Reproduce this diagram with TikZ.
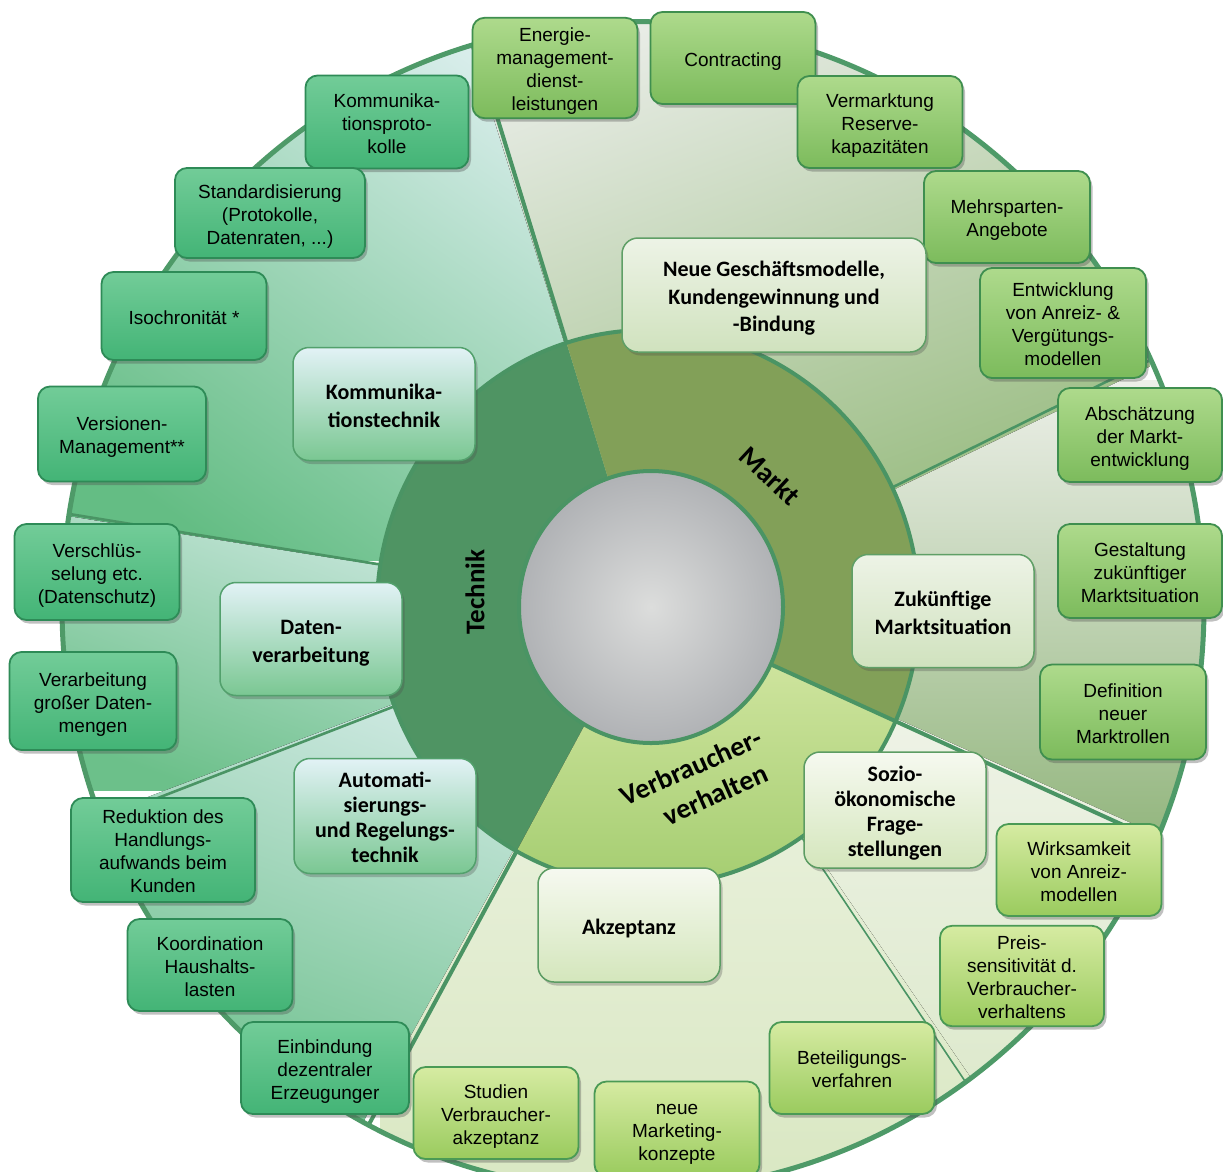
\documentclass[tikz,border=0pt]{standalone}
\usepackage{fontspec}
\setmainfont{Liberation Sans}
\newfontfamily\calib{Carlito}
\usetikzlibrary{shadows}
\newcommand\strA{\rule{0pt}{22pt}}
\newcommand\strZ{\rule[-5.4pt]{0pt}{5.4pt}}
\newcommand\strB{\rule{0pt}{24pt}}
\newcommand\strY{\rule[-5.5pt]{0pt}{5.5pt}}
\definecolor{lineG}{HTML}{4A9464}
\definecolor{ringT}{HTML}{4F9463}
\definecolor{ringM}{HTML}{82A058}
\definecolor{ringVt}{HTML}{D8E9A8}
\definecolor{ringVb}{HTML}{A4CD70}
\definecolor{bTt}{HTML}{72CC98}
\definecolor{bTb}{HTML}{43B476}
\definecolor{bTd}{HTML}{2E8B57}
\definecolor{bMt}{HTML}{AEDA8C}
\definecolor{bMb}{HTML}{7CBB5C}
\definecolor{bMd}{HTML}{3F8F4F}
\definecolor{bVt}{HTML}{D6EBA2}
\definecolor{bVb}{HTML}{9ACB5E}
\definecolor{bVd}{HTML}{4A9A55}
\definecolor{tTt}{HTML}{E2F2F6}
\definecolor{tTb}{HTML}{7AC792}
\definecolor{tTd}{HTML}{52A06C}
\definecolor{tMt}{HTML}{EDF3E6}
\definecolor{tMb}{HTML}{D0E2BE}
\definecolor{tMd}{HTML}{5F9F66}
\definecolor{tVt}{HTML}{F6F9F0}
\definecolor{tVb}{HTML}{D4E6BC}
\definecolor{tVd}{HTML}{5C9C63}
\begin{document}
\begin{tikzpicture}[x=1pt,y=-1pt,
  every node/.style={align=center,text=black},
  bx/.style={rounded corners=12pt,draw,line width=1.8pt,inner sep=2pt,
    font=\fontsize{19}{23}\selectfont,
    drop shadow={shadow xshift=2.5pt,shadow yshift=-3.5pt,opacity=0.35,fill=black!70}},
  bT/.style={bx,draw=bTd,top color=bTt,bottom color=bTb},
  bM/.style={bx,draw=bMd,top color=bMt,bottom color=bMb},
  bV/.style={bx,draw=bVd,top color=bVt,bottom color=bVb},
  tp/.style={rounded corners=16pt,draw,line width=1.5pt,inner sep=2pt,
    font=\calib\bfseries\fontsize{22}{27.5}\selectfont,
    drop shadow={shadow xshift=2.5pt,shadow yshift=-3.5pt,opacity=0.3,fill=black!70}},
  tT/.style={tp,draw=tTd,top color=tTt,bottom color=tTb},
  tM/.style={tp,draw=tMd,top color=tMt,bottom color=tMb},
  tV/.style={tp,draw=tVd,top color=tVt,bottom color=tVb},
  lbl/.style={font=\calib\bfseries\fontsize{28}{35}\selectfont,inner sep=0pt},
  bl/.style={draw=lineG,line width=4pt},
  sl/.style={draw=lineG,line width=2.6pt},
  tl/.style={draw=lineG,line width=1.6pt}]
\useasboundingbox (0,0) rectangle (1223,1171);
\fill[white] (0,0) rectangle (1223,1171);
% ---------- outer sectors ----------
\begin{scope}
\clip (648,608) -- +(189:1500) -- +(221:1500) -- +(252.5:1500) -- cycle;
\clip (633,606.5) ellipse [x radius=571,y radius=585];
\fill[top color={rgb,255:red,223;green,240;blue,241},bottom color={rgb,255:red,100;green,189;blue,132},shading angle=-35] (40,10) rectangle (660,560);
\end{scope}
\begin{scope}
\clip (648,608) -- +(159.3:1500) -- +(174:1500) -- +(189:1500) -- cycle;
\clip (633,606.5) ellipse [x radius=571,y radius=585];
\fill[top color={rgb,255:red,226;green,241;blue,243},bottom color={rgb,255:red,108;green,192;blue,138},shading angle=-20] (40,480) rectangle (660,790);
\end{scope}
\begin{scope}
\clip (648,608) -- +(119:1500) -- +(139:1500) -- +(159.3:1500) -- cycle;
\clip (633,606.5) ellipse [x radius=571,y radius=585];
\fill[top color={rgb,255:red,221;green,239;blue,239},bottom color={rgb,255:red,102;green,189;blue,134},shading angle=-20] (50,640) rectangle (660,1150);
\end{scope}
\begin{scope}
\clip (648,608) -- +(-107.5:1500) -- +(-66.6:1500) -- +(-25.7:1500) -- cycle;
\clip (633,606.5) ellipse [x radius=571,y radius=585];
\fill[top color={rgb,255:red,232;green,236;blue,230},bottom color={rgb,255:red,156;green,190;blue,133},shading angle=20] (470,10) rectangle (1150,500);
\end{scope}
\begin{scope}
\clip (648,608) -- +(-25.7:1500) -- +(-0.85:1500) -- +(24:1500) -- cycle;
\clip (633,606.5) ellipse [x radius=571,y radius=585];
\fill[top color={rgb,255:red,236;green,239;blue,232},bottom color={rgb,255:red,147;green,182;blue,126}] (640,380) rectangle (1210,840);
\end{scope}
\begin{scope}
\clip (648,608) -- +(24:1500) -- +(39.75:1500) -- +(55.5:1500) -- cycle;
\clip (633,606.5) ellipse [x radius=571,y radius=585];
\fill[top color={rgb,255:red,243;green,246;blue,238},bottom color={rgb,255:red,221;green,233;blue,204}] (640,600) rectangle (1180,1100);
\end{scope}
\begin{scope}
\clip (648,608) -- +(55.5:1500) -- +(87.25:1500) -- +(119:1500) -- cycle;
\clip (633,606.5) ellipse [x radius=571,y radius=585];
\fill[top color={rgb,255:red,240;green,245;blue,231},bottom color={rgb,255:red,217;green,231;blue,194}] (380,600) rectangle (1000,1195);
\end{scope}
% ---------- ring ----------
\fill[ringT] (648,608) -- +(119:271 and 278) arc[start angle=119,end angle=252.5,x radius=271,y radius=278] -- cycle;
\fill[ringM] (648,608) -- +(-107.5:271 and 278) arc[start angle=-107.5,end angle=24,x radius=271,y radius=278] -- cycle;
\fill[top color=ringVt,bottom color=ringVb] (648,608) -- +(24:271 and 278) arc[start angle=24,end angle=119,x radius=271,y radius=278] -- cycle;
% ---------- boundary lines ----------
\begin{scope}
\clip (633,606.5) ellipse [x radius=571,y radius=585];
\draw[bl] (648,608) +(-107.5:271 and 278) -- +(-107.5:700 and 718);
\draw[bl] (648,608) +(24:132 and 136) -- +(24:700 and 718);
\draw[bl] (648,608) +(119:271 and 278) -- +(119:700 and 718);
\draw[sl] (648,608) +(189:271 and 278) -- +(189:700 and 718);
\draw[sl] (648,608) +(159.3:271 and 278) -- +(159.3:700 and 718);
\draw[sl] (648,608) +(-25.7:271 and 278) -- +(-25.7:700 and 718);
\draw[tl] (648,608) +(55.5:271 and 278) -- +(55.5:700 and 718);
\end{scope}
\draw[draw=lineG,line width=4pt] (648,608) ellipse [x radius=271,y radius=278];
\draw[draw={rgb,255:red,78;green,154;blue,104},line width=5pt] (633,606.5) ellipse [x radius=571,y radius=585];
% ---------- centre ----------
\shade[inner color={rgb,255:red,220;green,221;blue,220},outer color={rgb,255:red,176;green,178;blue,181}] (651,607) ellipse [x radius=132,y radius=136];
\draw[draw=lineG,line width=4pt] (651,607) ellipse [x radius=132,y radius=136];
% ---------- sector labels ----------
\node[lbl,rotate=90,font=\calib\bfseries\fontsize{27}{33}\selectfont] (lT) at (475,592) {Technik};
\node[lbl,rotate=-43] (lM) at (770,476) {Markt};
\node[lbl,rotate=24] (lV) at (698,783) {Verbraucher-\\\hspace*{22pt}verhalten};
% ---------- Technik boxes ----------
\node[bT,minimum width=163pt,minimum height=93pt] (kp) at (387,122) {\strA Kommunika-\\tionsproto-\\kolle\strZ};
\node[bT,minimum width=190pt,minimum height=90pt] (st) at (270,213) {\strA Standardisierung\\(Protokolle,\\Datenraten, ...)\strZ};
\node[bT,minimum width=165pt,minimum height=88pt] (iso) at (184,316) {\strA Isochronität *\strZ};
\node[bT,minimum width=168pt,minimum height=95pt] (vm) at (122,434) {\strA Versionen-\\Management**\strZ};
\node[bT,minimum width=165pt,minimum height=96pt] (vs) at (97,572) {\strA Verschlüs-\\selung etc.\\(Datenschutz)\strZ};
\node[bT,minimum width=167pt,minimum height=98pt] (vg) at (93,701) {\strA Verarbeitung\\großer Daten-\\mengen\strZ};
\node[bT,minimum width=184pt,minimum height=104pt] (rd) at (163,850) {\strA Reduktion des\\Handlungs-\\aufwands beim\\Kunden\strZ};
\node[bT,minimum width=165pt,minimum height=92pt] (ko) at (210,965) {\strA Koordination\\Haushalts-\\lasten\strZ};
\node[bT,minimum width=168pt,minimum height=92pt] (ei) at (325,1068) {\strA Einbindung\\dezentraler\\Erzeugunger\strZ};
% ---------- Markt boxes ----------
\node[bM,minimum width=165pt,minimum height=100pt] (en) at (555,68) {\strA Energie-\\management-\\dienst-\\leistungen\strZ};
\node[bM,minimum width=165pt,minimum height=92pt] (co) at (733,58) {\strA Contracting\strZ};
\node[bM,minimum width=165pt,minimum height=92pt] (vr) at (880,122) {\strA Vermarktung\\Reserve-\\kapazitäten\strZ};
\node[bM,minimum width=166pt,minimum height=92pt] (ms) at (1007,217) {\strA Mehrsparten-\\Angebote\strZ};
\node[bM,minimum width=166pt,minimum height=110pt] (ea) at (1063,323) {\strA Entwicklung\\von Anreiz- \&\\Vergütungs-\\modellen\strZ};
\node[bM,minimum width=164pt,minimum height=94pt] (ab) at (1140,435) {\strA Abschätzung\\der Markt-\\entwicklung\strZ};
\node[bM,minimum width=164pt,minimum height=94pt] (ge) at (1140,571) {\strA Gestaltung\\zukünftiger\\Marktsituation\strZ};
\node[bM,minimum width=166pt,minimum height=95pt] (de) at (1123,712) {\strA Definition\\neuer\\Marktrollen\strZ};
% ---------- Verbraucher boxes ----------
\node[bV,minimum width=165pt,minimum height=92pt] (wi) at (1079,870) {\strA Wirksamkeit\\von Anreiz-\\modellen\strZ};
\node[bV,minimum width=164pt,minimum height=100pt] (pr) at (1022,976) {\strA Preis-\\sensitivität d.\\Verbraucher-\\verhaltens\strZ};
\node[bV,minimum width=165pt,minimum height=92pt] (be) at (852,1068) {\strA Beteiligungs-\\verfahren\strZ};
\node[bV,minimum width=165pt,minimum height=95pt] (nm) at (677,1129) {\strA neue\\Marketing-\\konzepte\strZ};
\node[bV,minimum width=165pt,minimum height=92pt] (su) at (496,1113) {\strA Studien\\Verbraucher-\\akzeptanz\strZ};
% ---------- topic boxes ----------
\node[tT,minimum width=182pt,minimum height=113pt] (kt) at (384,404) {\strB Kommunika-\\tionstechnik\strY};
\node[tT,minimum width=182pt,minimum height=113pt] (dv) at (311,639) {\strB Daten-\\verarbeitung\strY};
\node[tT,minimum width=182pt,minimum height=115pt,font=\calib\bfseries\fontsize{22}{25}\selectfont] (au) at (385,816) {\strB Automati-\\sierungs-\\und Regelungs-\\technik\strY};
\node[tM,minimum width=304pt,minimum height=114pt] (ng) at (774,295) {\strB Neue Geschäftsmodelle,\\Kundengewinnung und\\-Bindung\strY};
\node[tM,minimum width=182pt,minimum height=113pt] (zm) at (943,611) {\strB Zukünftige\\Marktsituation\strY};
\node[tV,minimum width=182pt,minimum height=116pt,font=\calib\bfseries\fontsize{22}{25}\selectfont] (so) at (895,810) {\strB Sozio-\\ökonomische\\Frage-\\stellungen\strY};
\node[tV,minimum width=182pt,minimum height=114pt] (ak) at (629,925) {\strB Akzeptanz\strY};
\end{tikzpicture}
\end{document}
